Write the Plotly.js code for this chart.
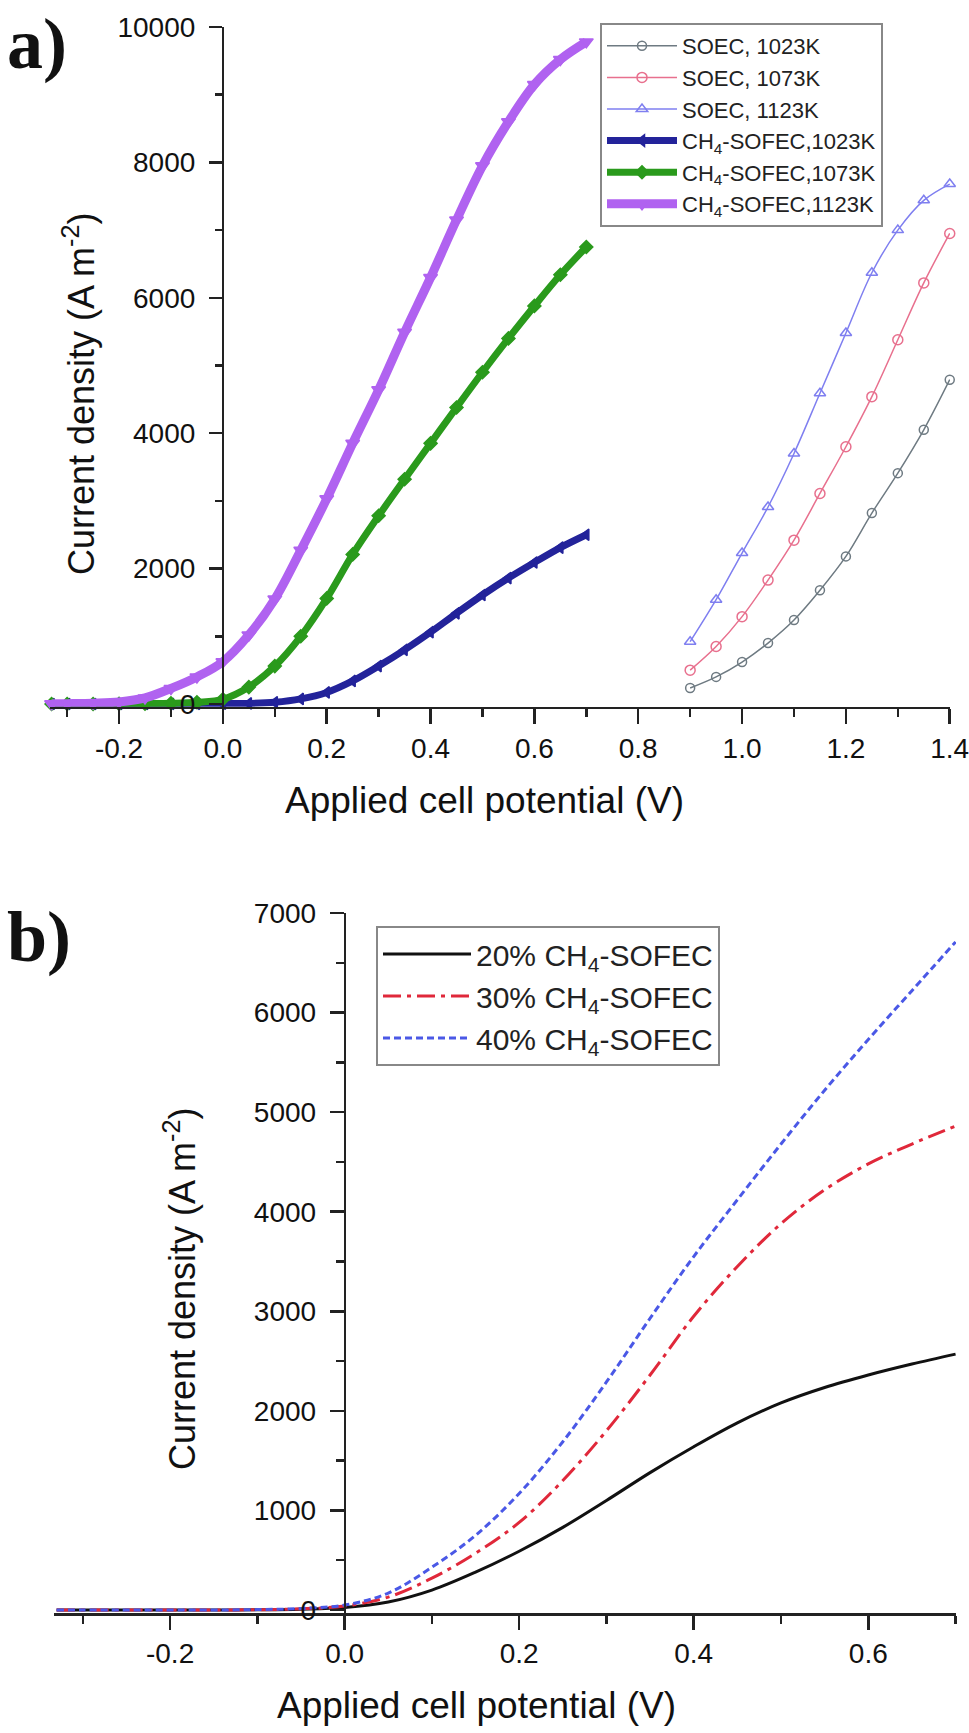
<!DOCTYPE html>
<html><head><meta charset="utf-8">
<script src="https://cdn.plot.ly/plotly-3.0.1.min.js"></script>
<style>html,body{margin:0;padding:0;background:#fff}#plot{width:969px;height:1733px}</style>
</head><body><div id="plot"></div>
<script>
// ---------- Panel a data ----------
const xCH4 = [-0.33,-0.3,-0.25,-0.2,-0.15,-0.1,-0.05,0,0.05,0.1,0.15,0.2,0.25,0.3,0.35,0.4,0.45,0.5,0.55,0.6,0.65,0.7];
const ch4_1023 = [0,0,0,0,0,1,3,5,8,25,75,170,340,560,800,1060,1340,1610,1860,2090,2310,2500];
const ch4_1073 = [0,0,0,2,5,10,25,70,250,560,1000,1560,2210,2780,3320,3850,4380,4900,5400,5880,6340,6750];
const ch4_1123 = [2,5,12,30,90,230,400,625,1020,1550,2270,3030,3850,4640,5490,6300,7150,7950,8600,9150,9520,9780];
const xSOEC = [0.9,0.95,1.0,1.05,1.1,1.15,1.2,1.25,1.3,1.35,1.4];
const soec_1023 = [236,400,620,900,1240,1680,2180,2820,3410,4050,4790];
const soec_1073 = [500,850,1290,1830,2420,3110,3800,4540,5380,6220,6950];
const soec_1123 = [920,1540,2230,2910,3700,4590,5480,6370,7000,7440,7680];
const namesA = ["SOEC, 1023K","SOEC, 1073K","SOEC, 1123K","CH<sub>4</sub>-SOFEC,1023K","CH<sub>4</sub>-SOFEC,1073K","CH<sub>4</sub>-SOFEC,1123K"];
const xTicksA = [-0.2,0,0.2,0.4,0.6,0.8,1.0,1.2,1.4];
const xTickTextA = ["-0.2","0.0","0.2","0.4","0.6","0.8","1.0","1.2","1.4"];
const yTicksA = [0,2000,4000,6000,8000,10000];
const yTickTextA = ["0","2000","4000","6000","8000","10000"];

// ---------- Panel b data ----------
const xB = [-0.33,-0.3,-0.25,-0.2,-0.15,-0.1,-0.05,0,0.05,0.1,0.15,0.2,0.25,0.3,0.35,0.4,0.45,0.5,0.55,0.6,0.65,0.7];
const ch4_20 = [0,0,0,0,0,2,8,25,80,200,380,590,830,1100,1380,1640,1880,2080,2235,2360,2470,2570];
const ch4_30 = [0,0,0,0,0,3,12,40,130,320,570,880,1300,1800,2360,2950,3450,3880,4220,4480,4680,4860];
const ch4_40 = [0,0,0,0,0,4,15,50,170,430,750,1170,1690,2290,2930,3550,4120,4680,5220,5730,6220,6710];
const namesB = ["20% CH<sub>4</sub>-SOFEC","30% CH<sub>4</sub>-SOFEC","40% CH<sub>4</sub>-SOFEC"];
const xTicksB = [-0.2,0,0.2,0.4,0.6];
const xTickTextB = ["-0.2","0.0","0.2","0.4","0.6"];
const yTicksB = [0,1000,2000,3000,4000,5000,6000,7000];

const W = 969, H = 1733;
const FONT = "Liberation Sans, Arial, sans-serif";

// layout geometry (pixels)
const axA = {x0:50, x1:950, yTop:27, yBot:706.7, xr:[-0.333,1.4], yr:[-40,10000]};
const axB = {x0:54, x1:956, yTop:913, yBot:1613, xr:[-0.333,0.7], yr:[-30,7000]};
function dom(a){
  return {
    xd:[a.x0/W, a.x1/W],
    yd:[(H-a.yBot)/H, (H-a.yTop)/H],
    pos: (a.x0 + (0-a.xr[0])/(a.xr[1]-a.xr[0])*(a.x1-a.x0))/W
  };
}
const dA = dom(axA), dB = dom(axB);

function mk(x,y,name,color,sym,size,lw,legend,xa,ya){
  return {x:x,y:y,name:name,type:'scatter',mode:'lines+markers',xaxis:xa,yaxis:ya,legend:legend,
    line:{color:color,width:lw,shape:'spline'},
    marker:{symbol:sym,size:size,color:color,line:{color:color,width:1.5}},cliponaxis:false};
}
const traces = [
  mk(xSOEC,soec_1023,namesA[0],'#6e7a82','circle-open',9,1.5,'legend','x','y'),
  mk(xSOEC,soec_1073,namesA[1],'#e8708e','circle-open',10,1.5,'legend','x','y'),
  mk(xSOEC,soec_1123,namesA[2],'#7f7ff0','triangle-up-open',10,1.5,'legend','x','y'),
  mk(xCH4,ch4_1023,namesA[3],'#23239a','triangle-left',10,7,'legend','x','y'),
  mk(xCH4,ch4_1073,namesA[4],'#2a9a1c','diamond',10,7,'legend','x','y'),
  mk(xCH4,ch4_1123,namesA[5],'#b062f0','triangle-down',12,9,'legend','x','y'),
  {x:xB,y:ch4_20,name:namesB[0],type:'scatter',mode:'lines',xaxis:'x2',yaxis:'y2',legend:'legend2',
    line:{color:'#111',width:3,shape:'spline'}},
  {x:xB,y:ch4_30,name:namesB[1],type:'scatter',mode:'lines',xaxis:'x2',yaxis:'y2',legend:'legend2',
    line:{color:'#e0283a',width:3,dash:'18px,6px,4px,6px',shape:'spline'}},
  {x:xB,y:ch4_40,name:namesB[2],type:'scatter',mode:'lines',xaxis:'x2',yaxis:'y2',legend:'legend2',
    line:{color:'#4a58e6',width:3,dash:'7px,4px',shape:'spline'}}
];

const axisCommon = {showline:true,linecolor:'#222',linewidth:2.5,ticks:'outside',tickcolor:'#222',
  tickwidth:2.5,showgrid:false,zeroline:false,ticklabeloverflow:'allow',tickfont:{family:FONT,size:28,color:'#111'}};

const layout = {
  width:W,height:H,margin:{l:0,r:0,t:0,b:0},paper_bgcolor:'#fff',plot_bgcolor:'rgba(0,0,0,0)',
  font:{family:FONT,color:'#111'},
  xaxis:Object.assign({},axisCommon,{domain:dA.xd,range:[axA.xr[0],axA.xr[1]+0.0005],anchor:'y',tickmode:'array',
    tickvals:xTicksA,ticktext:xTickTextA,ticklen:15,minor:{dtick:0.1,tick0:0,ticklen:8,tickwidth:2.5,tickcolor:'#222',ticks:'outside'}}),
  yaxis:Object.assign({},axisCommon,{domain:dA.yd,range:axA.yr,anchor:'free',position:dA.pos,ticklabelstandoff:8,
    tickmode:'array',tickvals:yTicksA,ticktext:yTickTextA,ticklen:13,minor:{dtick:1000,tick0:0,ticklen:7,tickwidth:2.5,tickcolor:'#222',ticks:'outside'}}),
  xaxis2:Object.assign({},axisCommon,{domain:dB.xd,range:[axB.xr[0],axB.xr[1]+0.0005],anchor:'y2',tickmode:'array',
    tickvals:xTicksB,ticktext:xTickTextB,ticklen:14,minor:{dtick:0.1,tick0:0,ticklen:8,tickwidth:2.5,tickcolor:'#222',ticks:'outside'}}),
  yaxis2:Object.assign({},axisCommon,{domain:dB.yd,range:axB.yr,anchor:'free',position:dB.pos,ticklabelstandoff:8,
    tickmode:'array',tickvals:yTicksB,ticklen:14,minor:{dtick:500,tick0:0,ticklen:8,tickwidth:2.5,tickcolor:'#222',ticks:'outside'}}),
  legend:{x:600/W,y:(H-23)/H,xanchor:'left',yanchor:'top',bgcolor:'#fff',bordercolor:'#888',borderwidth:2,
    font:{family:FONT,size:22,color:'#222'},tracegroupgap:0,itemwidth:70},
  legend2:{x:376/W,y:(H-926)/H,xanchor:'left',yanchor:'top',bgcolor:'#fff',bordercolor:'#888',borderwidth:2,
    font:{family:FONT,size:30,color:'#222'},tracegroupgap:0,itemwidth:88},
  showlegend:true,
  annotations:[
    {text:'<b>a)</b>',xref:'paper',yref:'paper',x:5/W,y:1-44/H,xanchor:'left',yanchor:'middle',showarrow:false,
      font:{family:'Liberation Serif, Times New Roman, serif',size:72,color:'#111'}},
    {text:'<b>b)</b>',xref:'paper',yref:'paper',x:5/W,y:1-937/H,xanchor:'left',yanchor:'middle',showarrow:false,
      font:{family:'Liberation Serif, Times New Roman, serif',size:72,color:'#111'}},
    {text:'Applied cell potential (V)',xref:'paper',yref:'paper',x:485/W,y:1-800/H,xanchor:'center',yanchor:'middle',showarrow:false,
      font:{family:FONT,size:37,color:'#111'}},
    {text:'Applied cell potential (V)',xref:'paper',yref:'paper',x:476/W,y:1-1705/H,xanchor:'center',yanchor:'middle',showarrow:false,
      font:{family:FONT,size:37,color:'#111'}},
    {text:'Current density (A m<sup>-2</sup>)',xref:'paper',yref:'paper',x:79/W,y:1-394/H,xanchor:'center',yanchor:'middle',textangle:-90,showarrow:false,
      font:{family:FONT,size:36,color:'#111'}},
    {text:'Current density (A m<sup>-2</sup>)',xref:'paper',yref:'paper',x:180/W,y:1-1289/H,xanchor:'center',yanchor:'middle',textangle:-90,showarrow:false,
      font:{family:FONT,size:36,color:'#111'}}
  ]
};
Plotly.newPlot('plot',traces,layout,{staticPlot:true,displayModeBar:false});
</script></body></html>
